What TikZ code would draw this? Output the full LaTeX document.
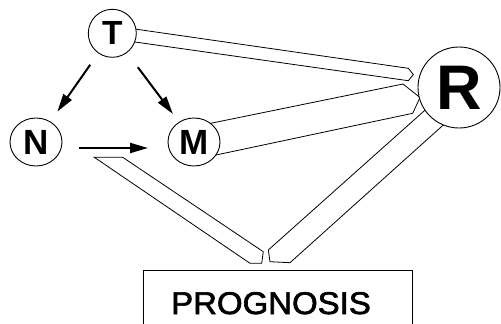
\documentclass[tikz,border=0pt]{standalone}
\usepackage{fontspec}
\setmainfont{Liberation Sans}
\font\progfont="Liberation Sans:embolden=2" at 31.4pt
\usetikzlibrary{arrows.meta,shapes.geometric}
\begin{document}
\begin{tikzpicture}[x=1pt,y=-1pt,
  bubble/.style={ellipse,draw,fill=white,line width=0.9pt,inner sep=0pt},
  letter/.style={font=\fontsize{#1}{#1}\selectfont\bfseries},
  band/.style={draw,fill=white,line width=0.8pt,line join=miter},
  arr/.style={line width=2pt,-{Triangle[length=18pt,width=10pt]}}]
\useasboundingbox (0,0) rectangle (501,324);
% bands
\draw[band] (125,27.6) -- (408.3,68.3) -- (413.3,74.5) -- (408.3,80.7) -- (125,40.6);
\draw[band] (200,125.5) -- (403,84) -- (420,97.5) -- (412.7,113.3) -- (200,158.4);
\draw[band] (430,105.7) -- (268.3,250) -- (270,261.7) -- (290,262.7) -- (452,117.2);
\draw[band] (94.3,157.3) -- (250,263.3) -- (261.7,263.3) -- (263.3,251.7) -- (122.7,157.3) -- cycle;
% nodes
\node[bubble,letter=33.5,minimum width=48pt,minimum height=48pt] (T) at (112.3,33.3) {T};
\node[bubble,letter=35,minimum width=52pt,minimum height=48pt] (N) at (36,142) {N};
\node[bubble,letter=35,minimum width=52pt,minimum height=48pt] (M) at (194,142) {M};
\node[bubble,letter=63,minimum width=82pt,minimum height=81pt] (R) at (459,87.5) {R};
% arrows
\draw[arr,shorten <=14pt,shorten >=12pt] (T) -- (N);
\draw[arr,shorten <=18pt,shorten >=10pt] (T) -- (M);
\draw[arr,shorten <=43pt,shorten >=46pt] ([yshift=-6pt]N.center) -- ([yshift=-6pt]M.center);
% prognosis box
\draw[line width=0.9pt] (143,326) -- (143,270) -- (412,270) -- (412,326);
\node[anchor=base,font=\progfont,inner sep=0pt] (P) at (271,314) {\scalebox{1.05}[1]{PROGNOSIS}};
\end{tikzpicture}
\end{document}
